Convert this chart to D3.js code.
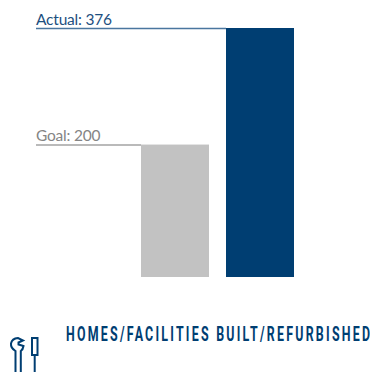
<!DOCTYPE html>
<html>
<head>
<meta charset="utf-8">
<script src="https://cdn.jsdelivr.net/npm/d3@7"></script>
<style>
  html, body { margin: 0; padding: 0; background: #fff; }
  svg { display: block; }
</style>
</head>
<body>
<div id="chart"></div>
<script>
// values
const categories = ['Goal', 'Actual'];
const values = [200, 376];
const colors = ['#c2c2c2', '#003e72'];
const labelColors = ['#858585', '#1d4f80'];
const lineColors = ['#a3a3a3', '#4a769f'];
const title = 'HOMES/FACILITIES BUILT/REFURBISHED';

const width = 370;
const height = 372;
const blue = '#003e72';

const svg = d3.select('#chart')
  .append('svg')
  .attr('width', width)
  .attr('height', height);

const x = d3.scaleBand()
  .domain(categories)
  .range([141, 294])
  .paddingInner(0.2);

const y = d3.scaleLinear()
  .domain([0, 376])
  .range([277, 28]);

// leader lines go behind the bars
svg.append('g')
  .selectAll('line')
  .data(categories)
  .join('line')
    .attr('x1', 36)
    .attr('x2', d => x(d))
    .attr('y1', (d, i) => y(values[i]) + 0.5)
    .attr('y2', (d, i) => y(values[i]) + 0.5)
    .attr('stroke', (d, i) => lineColors[i])
    .attr('stroke-width', 1.4);

svg.append('g')
  .selectAll('rect')
  .data(categories)
  .join('rect')
    .attr('x', d => x(d))
    .attr('y', (d, i) => y(values[i]))
    .attr('width', x.bandwidth())
    .attr('height', (d, i) => y(0) - y(values[i]))
    .attr('fill', (d, i) => colors[i]);

svg.append('g')
  .selectAll('text')
  .data(categories)
  .join('text')
    .attr('x', 36)
    .attr('y', (d, i) => y(values[i]) - 3.5)
    .attr('font-family', 'Lato, sans-serif')
    .attr('font-size', 15.5)
    .attr('letter-spacing', -0.2)
    .attr('fill', (d, i) => labelColors[i])
    .text((d, i) => `${d}: ${values[i]}`);

// no condensed font installed, so squeeze Roboto and space it back out
const squeeze = 0.62;
svg.append('text')
  .attr('transform', `translate(66,341) scale(${squeeze},1)`)
  .attr('font-family', 'Roboto, sans-serif')
  .attr('font-weight', 700)
  .attr('font-size', 20)
  .attr('fill', blue)
  .attr('textLength', 304 / squeeze)
  .attr('lengthAdjust', 'spacing')
  .text(title);

// wrench and screwdriver icon
const icon = svg.append('g')
  .attr('fill', 'none')
  .attr('stroke', blue)
  .attr('stroke-width', 2);

icon.append('path')
  .attr('d', 'M15.5 372 L15.5 351 Q10.5 348 11 343.5 Q12 338.5 18 338 L23 340.5 L18.5 342.5 L18.5 344.5 L23.5 346 Q23 349.5 20.8 351 L20.8 372');
icon.append('rect')
  .attr('x', 32)
  .attr('y', 338)
  .attr('width', 5.5)
  .attr('height', 17);
icon.append('line')
  .attr('x1', 34.7)
  .attr('x2', 34.7)
  .attr('y1', 355)
  .attr('y2', 372);
</script>
</body>
</html>
